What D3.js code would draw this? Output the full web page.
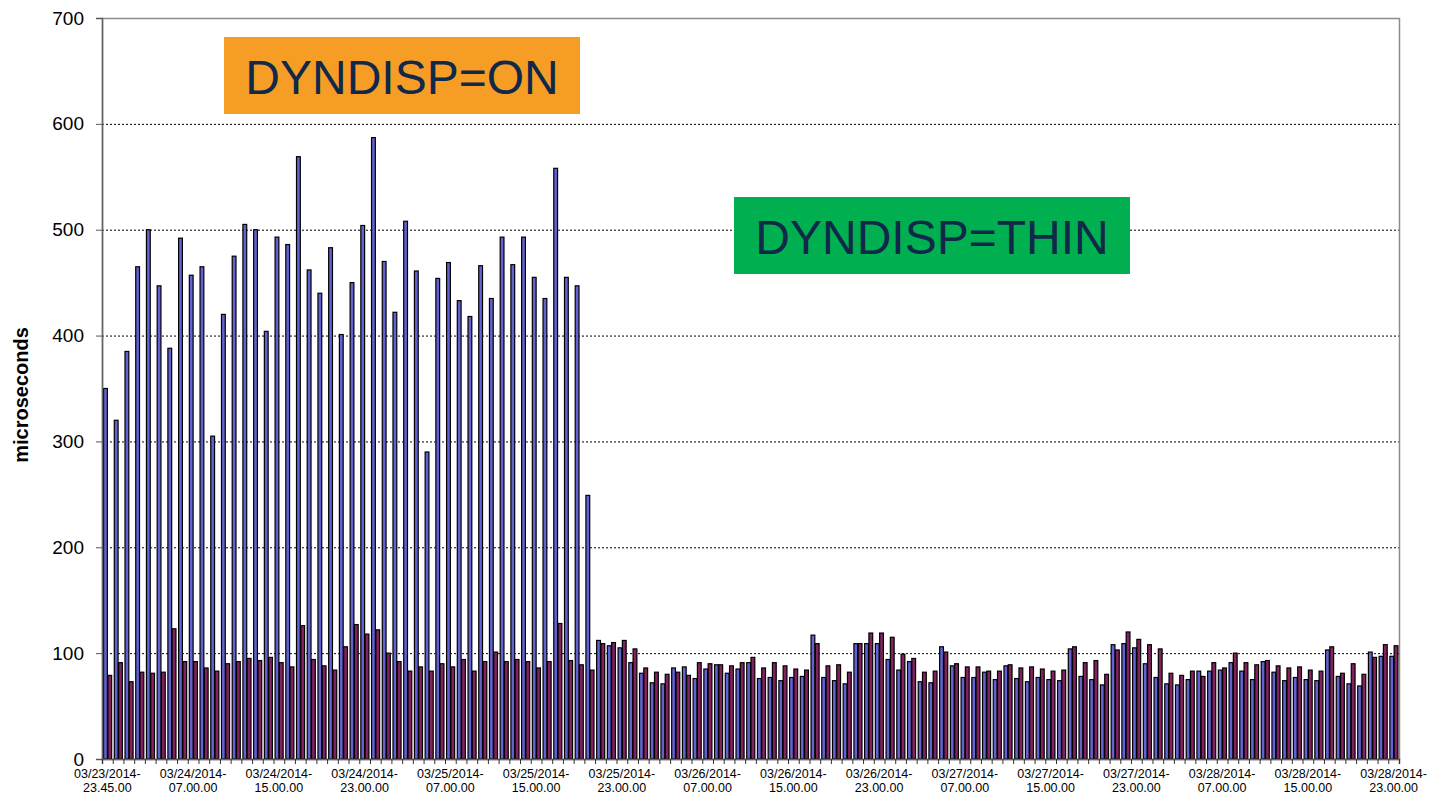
<!DOCTYPE html>
<html>
<head>
<meta charset="utf-8">
<script src="https://cdn.jsdelivr.net/npm/d3@7"></script>
<style>
  body { margin: 0; background: #fff; }
  svg { display: block; font-family: Arial, "Liberation Sans", sans-serif; }
</style>
</head>
<body>
<div id="chart"></div>
<script>
// hourly samples, 03/23 23:45 .. 03/28 23:00 (121 categories)
const tickLabels = [
    ['03/23/2014-', '23.45.00'], ['03/24/2014-', '07.00.00'], ['03/24/2014-', '15.00.00'], ['03/24/2014-', '23.00.00'],
    ['03/25/2014-', '07.00.00'], ['03/25/2014-', '15.00.00'], ['03/25/2014-', '23.00.00'], ['03/26/2014-', '07.00.00'],
    ['03/26/2014-', '15.00.00'], ['03/26/2014-', '23.00.00'], ['03/27/2014-', '07.00.00'], ['03/27/2014-', '15.00.00'],
    ['03/27/2014-', '23.00.00'], ['03/28/2014-', '07.00.00'], ['03/28/2014-', '15.00.00'], ['03/28/2014-', '23.00.00']
];

const seriesBlue = [
    350, 320, 385, 465, 500, 447, 388, 492, 457, 465, 305, 420, 475, 505, 500, 404,
    493, 486, 569, 462, 440, 483, 401, 450, 504, 587, 470, 422, 508, 461, 290, 454,
    469, 433, 418, 466, 435, 493, 467, 493, 455, 435, 558, 455, 447, 249,
    112, 107, 105, 91, 81, 72, 71, 86, 87, 76, 85, 89, 81, 85, 91, 76,
    77, 74, 77, 78, 117, 77, 74, 71, 109, 109, 109, 94, 84, 92, 73, 72,
    106, 88, 77, 77, 82, 75, 88, 76, 73, 77, 75, 74, 104, 78, 75, 70,
    108, 109, 105, 90, 77, 71, 70, 75, 83, 83, 84, 91, 83, 75, 92, 82,
    74, 77, 75, 74, 103, 78, 71, 69, 101, 97, 97
];

const seriesRed = [
    79, 91, 73, 82, 81, 82, 123, 92, 92, 86, 83, 90, 92, 95, 93, 96,
    91, 87, 126, 94, 88, 84, 106, 127, 118, 122, 100, 92, 83, 87, 83, 90,
    87, 94, 83, 92, 101, 92, 94, 92, 86, 92, 128, 93, 89, 84,
    109, 110, 112, 104, 86, 82, 80, 82, 79, 91, 90, 89, 88, 91, 96, 86,
    91, 88, 85, 84, 109, 88, 89, 82, 109, 119, 119, 115, 99, 95, 82, 83,
    101, 90, 87, 87, 83, 83, 89, 86, 87, 85, 83, 84, 106, 91, 93, 80,
    103, 120, 113, 108, 104, 81, 79, 83, 78, 91, 86, 100, 91, 89, 93, 88,
    86, 87, 84, 83, 106, 81, 90, 80, 96, 108, 107
];

const yTicks = [0, 100, 200, 300, 400, 500, 600, 700];

const notes = [
    { text: 'DYNDISP=ON', x0: 224, x1: 580, y0: 37, y1: 114, fill: '#f69d26' },
    { text: 'DYNDISP=THIN', x0: 734, x1: 1130, y0: 197, y1: 274, fill: '#00b050' }
];

const width = 1429, height = 794;
const margin = { top: 18, right: 30, bottom: 35, left: 102 };
const plotW = width - margin.left - margin.right;
const plotH = height - margin.top - margin.bottom;

const categories = d3.range(seriesBlue.length);

const x = d3.scaleBand()
    .domain(categories)
    .range([0, plotW])
    .paddingInner(0.2)
    .paddingOuter(0.1);

const xEdge = d3.scaleLinear()
    .domain([0, categories.length])
    .range([0, plotW]);

const xSub = d3.scaleBand()
    .domain(['blue', 'red'])
    .range([0, x.bandwidth()]);

const y = d3.scaleLinear()
    .domain([0, 700])
    .range([plotH, 0]);

const svg = d3.select('#chart').append('svg')
    .attr('width', width)
    .attr('height', height);

const g = svg.append('g')
    .attr('transform', `translate(${margin.left},${margin.top})`);

// grid
g.selectAll('.grid')
    .data(yTicks.filter(d => d > 0 && d < 700))
    .enter().append('line')
    .attr('class', 'grid')
    .attr('x1', 0)
    .attr('x2', plotW)
    .attr('y1', d => y(d) + 0.5)
    .attr('y2', d => y(d) + 0.5)
    .attr('stroke', '#000')
    .attr('stroke-width', 1)
    .attr('stroke-dasharray', '2,2');

// plot border
g.append('rect')
    .attr('x', 0.5)
    .attr('y', 0.5)
    .attr('width', plotW)
    .attr('height', plotH)
    .attr('fill', 'none')
    .attr('stroke', '#8c8c8c')
    .attr('stroke-width', 1.5);

// bars
const bar = g.selectAll('.pair')
    .data(categories)
    .enter().append('g')
    .attr('class', 'pair')
    .attr('transform', d => `translate(${x(d)},0)`);

bar.append('rect')
    .attr('x', xSub('blue') + 0.5)
    .attr('y', d => y(seriesBlue[d]))
    .attr('width', xSub.bandwidth() - 0.5)
    .attr('height', d => plotH - y(seriesBlue[d]))
    .attr('fill', '#6262d0')
    .attr('stroke', '#000')
    .attr('stroke-width', 1.2);

bar.append('rect')
    .attr('x', xSub('red') + 0.5)
    .attr('y', d => y(seriesRed[d]))
    .attr('width', xSub.bandwidth() - 0.5)
    .attr('height', d => plotH - y(seriesRed[d]))
    .attr('fill', '#82225f')
    .attr('stroke', '#000')
    .attr('stroke-width', 1.2);

// y axis
const yAxis = g.append('g')
    .call(d3.axisLeft(y).tickValues(yTicks).tickSize(6).tickPadding(12));
yAxis.select('.domain').attr('stroke', '#666').attr('stroke-width', 1.5);
yAxis.selectAll('.tick line').attr('stroke', '#555');
yAxis.selectAll('.tick text')
    .attr('font-size', '19px')
    .attr('fill', '#000')
    .attr('font-family', 'Arial, "Liberation Sans", sans-serif');

// x axis: ticks between categories
const xAxis = g.append('g')
    .attr('transform', `translate(0,${plotH})`)
    .call(d3.axisBottom(xEdge).tickValues(d3.range(categories.length + 1)).tickSize(5).tickFormat(''));
xAxis.select('.domain').attr('stroke', '#666').attr('stroke-width', 1.5);
xAxis.selectAll('.tick line').attr('stroke', '#333');

const labels = g.selectAll('.xlabel')
    .data(tickLabels)
    .enter().append('text')
    .attr('class', 'xlabel')
    .attr('x', (d, i) => x(i * 8) + x.bandwidth() / 2)
    .attr('y', plotH + 19)
    .attr('text-anchor', 'middle')
    .attr('font-size', '12.5px')
    .attr('fill', '#000');

labels.append('tspan')
    .attr('x', (d, i) => x(i * 8) + x.bandwidth() / 2)
    .text(d => d[0]);
labels.append('tspan')
    .attr('x', (d, i) => x(i * 8) + x.bandwidth() / 2)
    .attr('dy', 13.5)
    .text(d => d[1]);

// y title
svg.append('text')
    .attr('transform', 'translate(28,395) rotate(-90)')
    .attr('text-anchor', 'middle')
    .attr('font-size', '20px')
    .attr('font-weight', 'bold')
    .attr('fill', '#000')
    .text('microseconds');

// annotation boxes
const note = svg.selectAll('.note')
    .data(notes)
    .enter().append('g')
    .attr('class', 'note');

note.append('rect')
    .attr('x', d => d.x0)
    .attr('y', d => d.y0)
    .attr('width', d => d.x1 - d.x0)
    .attr('height', d => d.y1 - d.y0)
    .attr('fill', d => d.fill);

note.append('text')
    .attr('x', d => (d.x0 + d.x1) / 2)
    .attr('y', d => d.y0 + 57)
    .attr('text-anchor', 'middle')
    .attr('font-size', '48px')
    .attr('fill', '#10284a')
    .text(d => d.text);
</script>
</body>
</html>
